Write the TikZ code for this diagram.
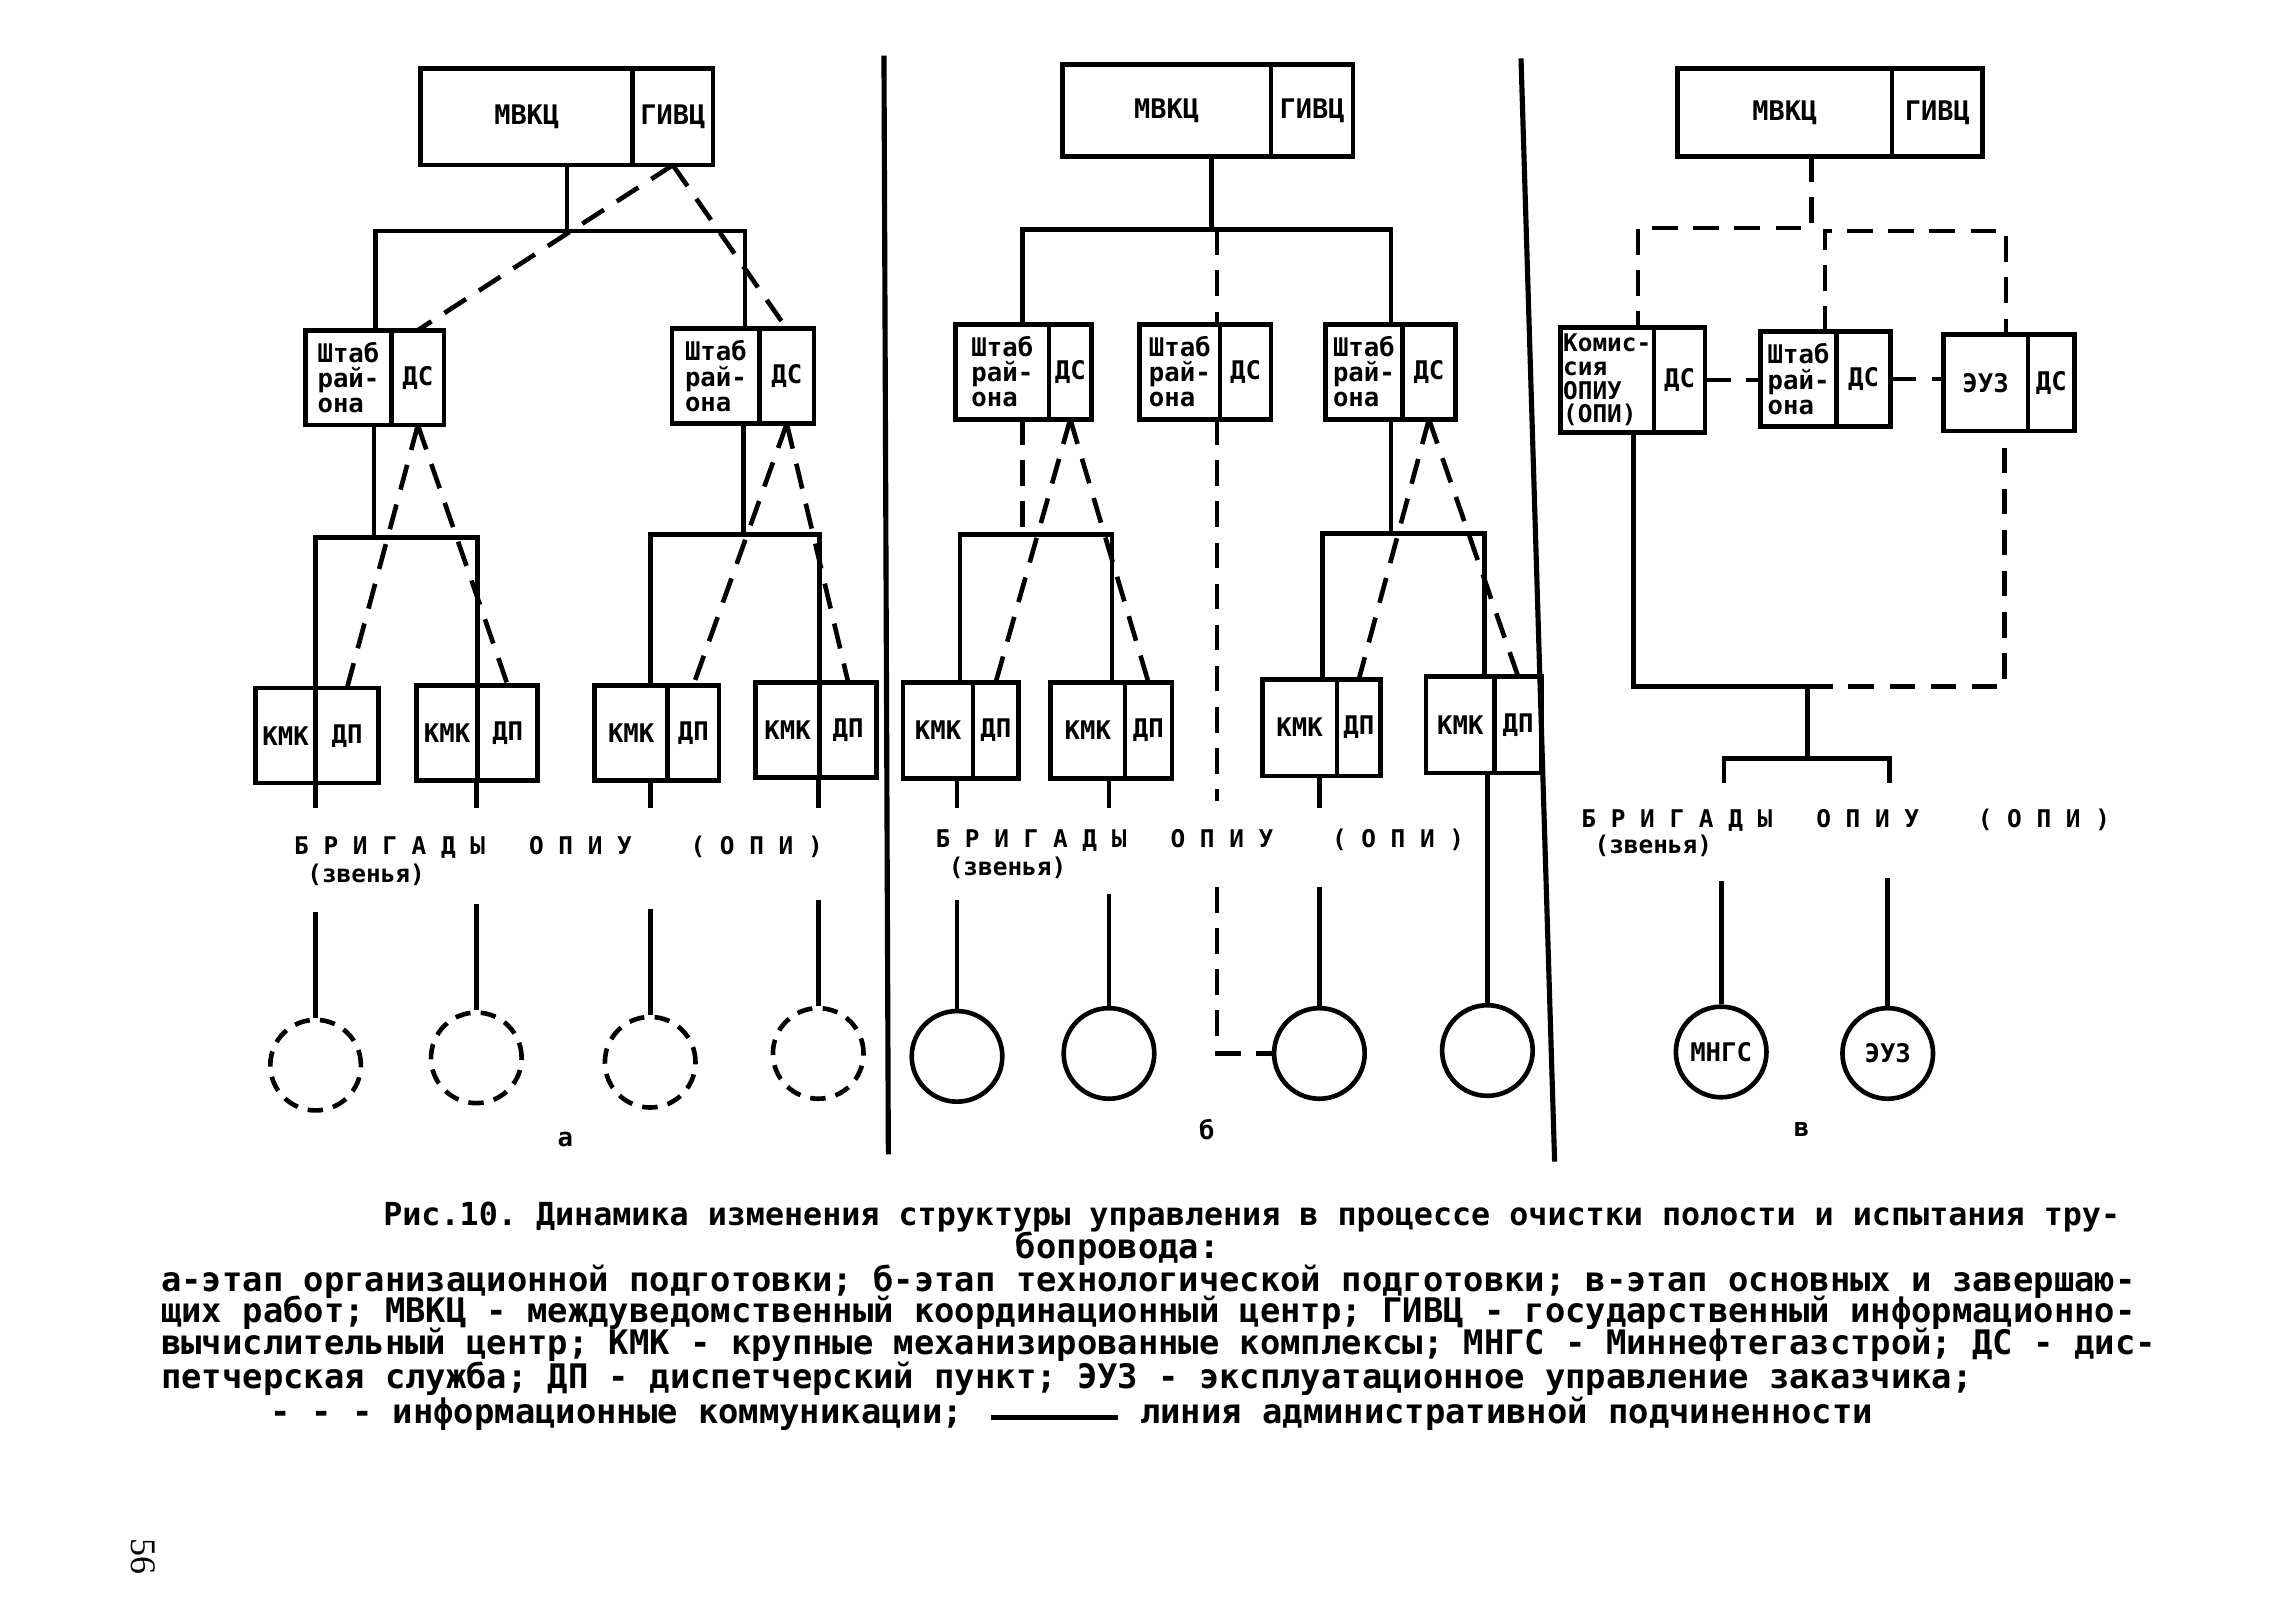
\documentclass[tikz,border=0pt]{standalone}
\usepackage{fontspec}
\setmonofont{DejaVu Sans Mono}
\newfontfamily\pagefont{Liberation Serif}
\usetikzlibrary{positioning}
\newcommand{\lbl}{\ttfamily\bfseries\fontsize{10}{9.8}\selectfont}
\newcommand{\lblbig}{\ttfamily\bfseries\fontsize{10.5}{10.5}\selectfont}
\newcommand{\lblsmall}{\ttfamily\bfseries\fontsize{9.5}{9.3}\selectfont}
\newcommand{\crew}{\ttfamily\bfseries\fontsize{9.5}{9.5}\selectfont}
\newcommand{\captitle}{\ttfamily\bfseries\fontsize{12.35}{12.5}\selectfont}
\newcommand{\captext}{\ttfamily\bfseries\fontsize{13.17}{12.5}\selectfont}

\begin{document}
\begin{tikzpicture}[x=0.02cm, y=-0.02cm,
  adm/.style={line width=1.8pt},
  info/.style={line width=1.8pt, dash pattern=on 10pt off 6pt},
  part/.style={draw, line width=1.8pt, inner sep=0pt, outer sep=0pt, align=left, font=\lbl},
  sz/.style 2 args={minimum width=#1*0.02cm, minimum height=#2*0.02cm},
  site/.style={circle, draw, line width=1.8pt, inner sep=0pt, minimum size=62*0.02cm, font=\lbl},
  plan/.style={site, dash pattern=on 6pt off 4pt}]
\fill[white] (0,0) rectangle (1568,1094);
\useasboundingbox (0,0) rectangle (1568,1094);

\draw[line width=2pt] (605,38) -- (608,790);
\draw[line width=2pt] (1041,40) -- (1064,795);

\node[part, sz={145}{66}, anchor=north west, font=\lblbig] (a-mvkc) at (288,47) {МВКЦ};
\node[part, sz={55}{66}, right=0pt of a-mvkc, font=\lblbig] (a-givc) {ГИВЦ};
\node[part, sz={59}{65}, anchor=north west] (a-shtab1) at (209,226) {Штаб\\рай-\\она};
\node[part, sz={36}{65}, right=0pt of a-shtab1] (a-ds1) {ДС};
\node[part, sz={60}{65}, anchor=north west] (a-shtab2) at (460,225) {Штаб\\рай-\\она};
\node[part, sz={37}{65}, right=0pt of a-shtab2] (a-ds2) {ДС};
\foreach \i/\x/\y/\w/\v in {1/175/471/41/43, 2/285/469/42/41, 3/407/469/50/35, 4/517/467/44/39}{
  \node[part, sz={\w}{65}, anchor=north west] (a-kmk\i) at (\x,\y) {КМК};
  \node[part, sz={\v}{65}, right=0pt of a-kmk\i] (a-dp\i) {ДП};
}
\coordinate (a-j) at (388,158);
\coordinate (a-l) at (257,158);
\coordinate (a-r) at (510,158);
\draw[adm] (a-mvkc.south -| a-j) -- (a-j);
\draw[adm] (a-shtab1.north -| a-l) -- (a-l) -- (a-r) -- (a-shtab2.north -| a-r);
\draw[info] (a-givc.south) -- (a-ds1.north);
\draw[info] (a-givc.south) -- (a-ds2.north);
\coordinate (a-s1) at (256,368);
\coordinate (a-s2) at (509,366);
\coordinate (a-b1) at (216,368);
\coordinate (a-b2) at (327,368);
\coordinate (a-b3) at (445,366);
\coordinate (a-b4) at (561,366);
\draw[adm] (a-shtab1.south -| a-s1) -- (a-s1);
\draw[adm] (a-shtab2.south -| a-s2) -- (a-s2);
\draw[adm] (a-kmk1.north -| a-b1) -- (a-b1) -- (a-b2) -- (a-kmk2.north -| a-b2);
\draw[adm] (a-kmk3.north -| a-b3) -- (a-b3) -- (a-b4) -- (a-kmk4.north -| a-b4);
\draw[info] (a-ds1.south) -- (a-dp1.north);
\draw[info] (a-ds1.south) -- (a-dp2.north);
\draw[info] (a-ds2.south) -- (a-dp3.north);
\draw[info] (a-ds2.south) -- (a-dp4.north);
\foreach \i/\x/\t/\c in {1/216/624/729, 2/326/619/724, 3/445/622/727, 4/560/616/721}{
  \coordinate (a-f\i) at (\x,553);
  \coordinate (a-t\i) at (\x,\t);
  \node[plan] (a-c\i) at (\x,\c) {};
  \draw[adm] (a-kmk\i.south -| a-f\i) -- (a-f\i);
  \draw[adm] (a-t\i) -- (a-c\i.north);
}
\node[anchor=west, font=\crew, inner sep=0pt] (a-crew) at (201,580) {Б Р И Г А Д Ы~~~О П И У~~~~( О П И )};
\node[anchor=west, font=\crew, inner sep=0pt] (a-units) at (210,599) {(звенья)};
\node[font=\lbl] (a-tag) at (387,780) {а};

\node[part, sz={143}{63}, anchor=north west, font=\lblbig] (b-mvkc) at (727,44) {МВКЦ};
\node[part, sz={56}{63}, right=0pt of b-mvkc, font=\lblbig] (b-givc) {ГИВЦ};
\node[part, sz={64}{65}, anchor=north west] (b-shtab1) at (654,222) {Штаб\\рай-\\она};
\node[part, sz={29}{65}, right=0pt of b-shtab1] (b-ds1) {ДС};
\node[part, sz={55}{65}, anchor=north west] (b-shtab2) at (780,222) {Штаб\\рай-\\она};
\node[part, sz={35}{65}, right=0pt of b-shtab2] (b-ds2) {ДС};
\node[part, sz={53}{65}, anchor=north west] (b-shtab3) at (907,222) {Штаб\\рай-\\она};
\node[part, sz={36}{65}, right=0pt of b-shtab3] (b-ds3) {ДС};
\foreach \i/\x/\y/\w/\v in {1/618/467/48/31, 2/719/467/51/32, 3/864/465/51/30, 4/976/463/47/32}{
  \node[part, sz={\w}{66}, anchor=north west] (b-kmk\i) at (\x,\y) {КМК};
  \node[part, sz={\v}{66}, right=0pt of b-kmk\i] (b-dp\i) {ДП};
}
\coordinate (b-j) at (829,157);
\coordinate (b-l) at (700,157);
\coordinate (b-r) at (952,157);
\coordinate (b-m0) at (833,157);
\draw[adm] (b-mvkc.south -| b-j) -- (b-j);
\draw[adm] (b-shtab1.north -| b-l) -- (b-l) -- (b-r) -- (b-shtab3.north -| b-r);
\draw[info] (b-m0) -- (b-shtab2.north -| b-m0);
\coordinate (b-s1) at (700,366);
\coordinate (b-s3) at (952,365);
\coordinate (b-b1) at (657,366);
\coordinate (b-b2) at (761,366);
\coordinate (b-b3) at (905,365);
\coordinate (b-b4) at (1016,365);
\draw[info] (b-shtab1.south -| b-s1) -- (b-s1);
\draw[adm] (b-shtab3.south -| b-s3) -- (b-s3);
\draw[adm] (b-kmk1.north -| b-b1) -- (b-b1) -- (b-b2) -- (b-kmk2.north -| b-b2);
\draw[adm] (b-kmk3.north -| b-b3) -- (b-b3) -- (b-b4) -- (b-kmk4.north -| b-b4);
\draw[info] (b-ds1.south) -- (b-dp1.north);
\draw[info] (b-ds1.south) -- (b-dp2.north);
\draw[info] (b-ds3.south) -- (b-dp3.north);
\draw[info] (b-ds3.south) -- (b-dp4.north);
\foreach \i/\x/\t/\c in {1/655/616/723, 2/759/612/721, 3/903/607/721}{
  \coordinate (b-f\i) at (\x,553);
  \coordinate (b-t\i) at (\x,\t);
  \node[site] (b-c\i) at (\x,\c) {};
  \draw[adm] (b-kmk\i.south -| b-f\i) -- (b-f\i);
  \draw[adm] (b-t\i) -- (b-c\i.north);
}
\node[site] (b-c4) at (1018,719) {};
\draw[adm] (b-kmk4.south -| b-c4) -- (b-c4.north);
\coordinate (b-m1) at (833,548);
\coordinate (b-m2) at (833,607);
\coordinate (b-m3) at (833,721);
\draw[info] (b-shtab2.south -| b-m1) -- (b-m1);
\draw[info] (b-m2) -- (b-m3) -- (b-c3.west);
\node[anchor=west, font=\crew, inner sep=0pt] (b-crew) at (640,575) {Б Р И Г А Д Ы~~~О П И У~~~~( О П И )};
\node[anchor=west, font=\crew, inner sep=0pt] (b-units) at (649,594) {(звенья)};
\node[font=\lbl] (b-tag) at (826,773) {б};

\node[part, sz={147}{60}, anchor=north west, font=\lblbig] (c-mvkc) at (1148,47) {МВКЦ};
\node[part, sz={62}{60}, right=0pt of c-mvkc, font=\lblbig] (c-givc) {ГИВЦ};
\node[part, sz={64}{72}, anchor=north west, font=\lblsmall] (c-kom) at (1068,224) {Комис-\\сия\\ОПИУ\\(ОПИ)};
\node[part, sz={35}{72}, right=0pt of c-kom] (c-ds1) {ДС};
\node[part, sz={52}{65}, anchor=north west] (c-shtab) at (1205,227) {Штаб\\рай-\\она};
\node[part, sz={37}{65}, right=0pt of c-shtab] (c-ds2) {ДС};
\node[part, sz={58}{66}, anchor=north west] (c-euz) at (1330,229) {ЭУЗ};
\node[part, sz={32}{66}, right=0pt of c-euz] (c-ds3) {ДС};
\coordinate (c-j0) at (1240,156);
\coordinate (c-l0) at (1121,156);
\coordinate (c-m0) at (1249,158);
\coordinate (c-r0) at (1373,158);
\draw[info] (c-mvkc.south -| c-j0) -- (c-j0) -- (c-l0) -- (c-kom.north -| c-l0);
\draw[info] (c-shtab.north -| c-m0) -- (c-m0) -- (c-r0) -- (c-euz.north -| c-r0);
\draw[info] (c-ds1.east) -- (c-ds1.east -| c-shtab.west);
\draw[info] (c-ds2.east) -- (c-ds2.east -| c-euz.west);
\coordinate (c-k) at (1118,470);
\coordinate (c-j) at (1237,470);
\coordinate (c-e) at (1372,470);
\draw[adm] (c-kom.south -| c-k) -- (c-k) -- (c-j);
\draw[info] (c-j) -- (c-e) -- (c-euz.south -| c-e);
\coordinate (c-b) at (1237,519);
\coordinate (c-bl) at (1180,519);
\coordinate (c-br) at (1293,519);
\coordinate (c-tl) at (1180,536);
\coordinate (c-tr) at (1293,536);
\draw[adm] (c-j) -- (c-b);
\draw[adm] (c-tl) -- (c-bl) -- (c-br) -- (c-tr);
\node[site] (c-c1) at (1178,720) {МНГС};
\node[site] (c-c2) at (1292,721) {ЭУЗ};
\coordinate (c-t1) at (1178,603);
\coordinate (c-t2) at (1292,601);
\draw[adm] (c-t1) -- (c-c1.north);
\draw[adm] (c-t2) -- (c-c2.north);
\node[anchor=west, font=\crew, inner sep=0pt] (c-crew) at (1082,561) {Б Р И Г А Д Ы~~~О П И У~~~~( О П И )};
\node[anchor=west, font=\crew, inner sep=0pt] (c-units) at (1091,579) {(звенья)};
\node[font=\lbl] (c-tag) at (1233,773) {в};

\node[anchor=base west, font=\captitle, inner sep=0pt] (cap1) at (262,839) {Рис.10. Динамика изменения структуры управления в процессе очистки полости и испытания тру-};
\node[anchor=base west, font=\captext, inner sep=0pt] (cap2) at (695,861) {бопровода:};
\node[anchor=base west, font=\captext, inner sep=0pt] (cap3) at (110,884) {а-этап организационной подготовки; б-этап технологической подготовки; в-этап основных и завершаю-};
\node[anchor=base west, font=\captext, inner sep=0pt] (cap4) at (110,905) {щих работ; МВКЦ - междуведомственный координационный центр; ГИВЦ - государственный информационно-};
\node[anchor=base west, font=\captext, inner sep=0pt] (cap5) at (110,927) {вычислительный центр; КМК - крупные механизированные комплексы; МНГС - Миннефтегазстрой; ДС - дис-};
\node[anchor=base west, font=\captext, inner sep=0pt] (cap6) at (110,950) {петчерская служба; ДП - диспетчерский пункт; ЭУЗ - эксплуатационное управление заказчика;};
\node[anchor=base west, font=\captext, inner sep=0pt] (cap7) at (185,974) {- - - информационные коммуникации;};
\node[anchor=base west, font=\captext, inner sep=0pt] (cap8) at (780,974) {линия административной подчиненности};
\coordinate (leg-l) at (678,970);
\coordinate (leg-r) at (765,970);
\draw[line width=2pt] (leg-l) -- (leg-r);

\node[font=\pagefont\fontsize{14}{14}\selectfont, rotate=-90] (pageno) at (98,1065) {56};
\end{tikzpicture}
\end{document}
